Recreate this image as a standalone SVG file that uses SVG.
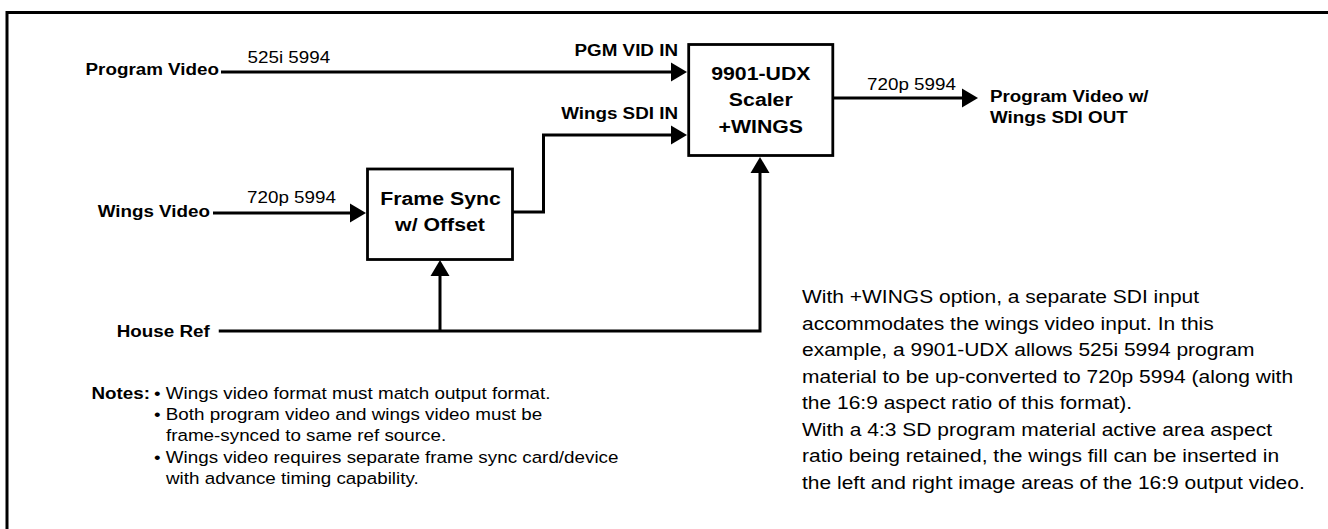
<svg xmlns="http://www.w3.org/2000/svg" width="1328" height="529" viewBox="0 0 1328 529">
<style>
text{font-family:"Liberation Sans",Arial,Helvetica,sans-serif;fill:#000}
.lbl{font-size:16.8px;font-weight:bold}
.fmt{font-size:16.8px}
.box{font-size:19px;font-weight:bold;text-anchor:middle}
.note{font-size:16.8px}
.para{font-size:18.75px}
.end{text-anchor:end}
.shape{fill:#fff;stroke:#000;stroke-width:2.8}
.wire{fill:none;stroke:#000;stroke-width:3}
.frame{fill:none;stroke:#000;stroke-width:3}
</style>
<defs>
<marker id="ah" markerUnits="userSpaceOnUse" markerWidth="17" markerHeight="20" refX="8" refY="9.5" orient="auto" overflow="visible">
<path d="M0,0 L16,9.5 L0,19 z" fill="#000"/>
</marker>
</defs>
<rect width="1328" height="529" fill="#fff"/>
<path class="frame" d="M7,529 V12.5 H1328"/>

<g id="connectors">
<path class="wire" d="M221,72 H679" marker-end="url(#ah)"/>
<path class="wire" d="M512,212 H543.5 V135 H679" marker-end="url(#ah)"/>
<path class="wire" d="M213,213 H358" marker-end="url(#ah)"/>
<path class="wire" d="M833,98 H970" marker-end="url(#ah)"/>
<path class="wire" d="M218.75,331 H760 V165" marker-end="url(#ah)"/>
<path class="wire" d="M440,331 V268" marker-end="url(#ah)"/>
<text class="fmt" transform="translate(247.5,62.7) scale(1.12,1)">525i 5994</text>
<text class="fmt" transform="translate(247,203) scale(1.12,1)">720p 5994</text>
<text class="fmt" transform="translate(867,89.5) scale(1.12,1)">720p 5994</text>
<text class="lbl end" transform="translate(678,55.5) scale(1.12,1)">PGM VID IN</text>
<text class="lbl end" transform="translate(678,119) scale(1.12,1)">Wings SDI IN</text>
</g>

<g id="program-video">
<text class="lbl end" transform="translate(219,75) scale(1.12,1)">Program Video</text>
</g>
<g id="wings-video">
<text class="lbl end" transform="translate(210,216.5) scale(1.12,1)">Wings Video</text>
</g>
<g id="house-ref">
<text class="lbl end" transform="translate(209.8,336.5) scale(1.12,1)">House Ref</text>
</g>
<g id="frame-sync">
<rect class="shape" x="367.5" y="169" width="145" height="90.5"/>
<text class="box" transform="translate(440.5,205) scale(1.12,1)">Frame Sync</text>
<text class="box" transform="translate(440,231) scale(1.12,1)">w/ Offset</text>
</g>
<g id="scaler">
<rect class="shape" x="688.7" y="44.5" width="144.1" height="111"/>
<text class="box" transform="translate(760.8,79.5) scale(1.12,1)">9901-UDX</text>
<text class="box" transform="translate(760.8,106) scale(1.12,1)">Scaler</text>
<text class="box" transform="translate(760.8,132.5) scale(1.12,1)">+WINGS</text>
</g>
<g id="output">
<text class="lbl" transform="translate(990,102) scale(1.12,1)">Program Video w/</text>
<text class="lbl" transform="translate(990,122.7) scale(1.12,1)">Wings SDI OUT</text>
</g>

<g id="notes">
<text class="note" font-weight="bold" transform="translate(91.5,398.8) scale(1.12,1)">Notes:</text>
<text class="note" transform="translate(154,398.8) scale(1.12,1)">• Wings video format must match output format.</text>
<text class="note" transform="translate(154,420.1) scale(1.12,1)">• Both program video and wings video must be</text>
<text class="note" transform="translate(166,441.4) scale(1.12,1)">frame-synced to same ref source.</text>
<text class="note" transform="translate(154,462.7) scale(1.12,1)">• Wings video requires separate frame sync card/device</text>
<text class="note" transform="translate(166,484) scale(1.12,1)">with advance timing capability.</text>
</g>

<g id="description">
<text class="para" transform="translate(802,303) scale(1.12,1)">With +WINGS option, a separate SDI input</text>
<text class="para" transform="translate(802,329.5) scale(1.12,1)">accommodates the wings video input. In this</text>
<text class="para" transform="translate(802,356) scale(1.12,1)">example, a 9901-UDX allows 525i 5994 program</text>
<text class="para" transform="translate(802,382.5) scale(1.12,1)">material to be up-converted to 720p 5994 (along with</text>
<text class="para" transform="translate(802,409) scale(1.12,1)">the 16:9 aspect ratio of this format).</text>
<text class="para" transform="translate(802,435.5) scale(1.12,1)">With a 4:3 SD program material active area aspect</text>
<text class="para" transform="translate(802,462) scale(1.12,1)">ratio being retained, the wings fill can be inserted in</text>
<text class="para" transform="translate(802,488.5) scale(1.12,1)">the left and right image areas of the 16:9 output video.</text>
</g>
</svg>
